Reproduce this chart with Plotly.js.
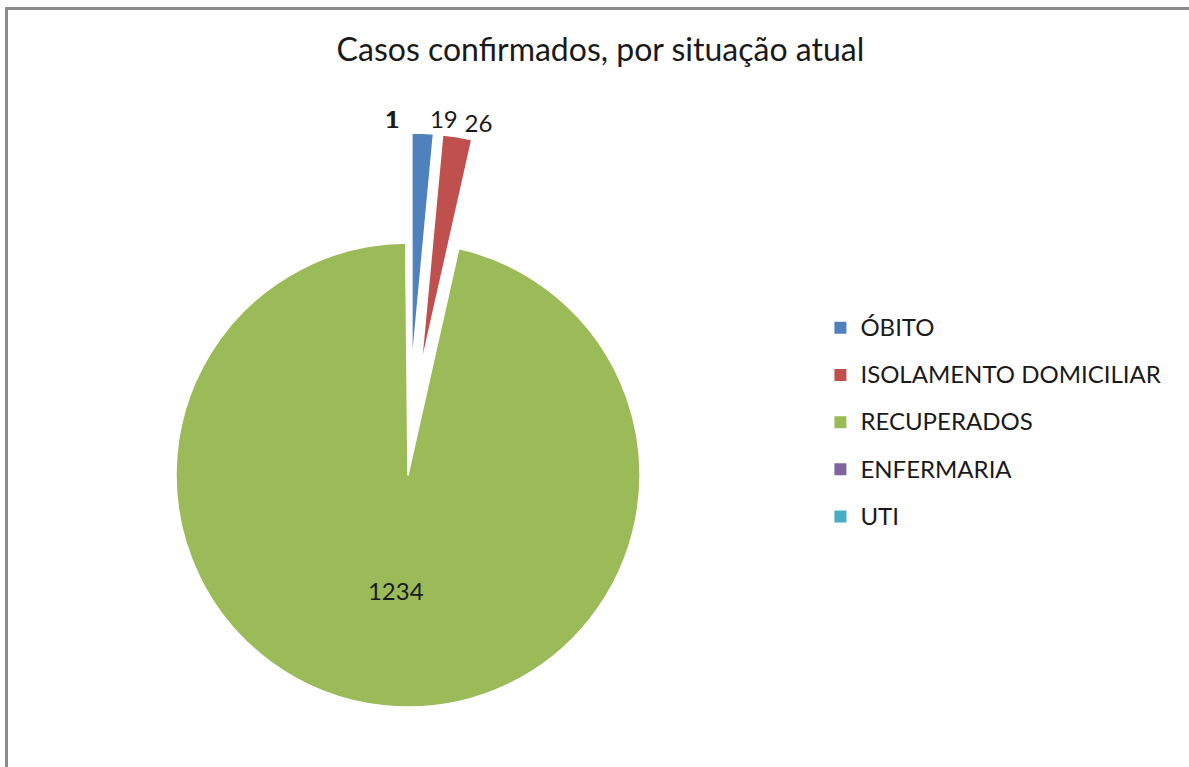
<!DOCTYPE html>
<html>
<head>
<meta charset="utf-8">
<script src="https://cdn.plot.ly/plotly-3.0.1.min.js"></script>
<style>
    body { margin: 0; background: #ffffff; }
    #wrap { position: relative; width: 1189px; height: 767px; overflow: hidden; }
    #chart { position: absolute; left: 0; top: 0; width: 1189px; height: 767px; }
    #frame {
        position: absolute; left: 5px; top: 7px; width: 1300px; height: 900px;
        border-top: 3px solid #8c8c8c; border-left: 3px solid #8c8c8c;
        pointer-events: none;
    }
</style>
</head>
<body>
<div id="wrap">
    <div id="chart"></div>
    <div id="frame"></div>
</div>
<script>
// Casos confirmados por situação atual
const categories = ['ÓBITO', 'ISOLAMENTO DOMICILIAR', 'RECUPERADOS', 'ENFERMARIA', 'UTI'];
const cases = [19, 26, 1234, 1, 1];
const sliceColors = ['#4f81bd', '#c0504d', '#9bbb59', '#8064a2', '#4bacc6'];
const exploded = [true, true, false, true, true];

const FONT = 'Lato, "Open Sans", sans-serif';
const TEXT = '#1a1a1a';
const NONE = 'rgba(0,0,0,0)';
const PULL = 0.36;

// the body of the pie (slices that are not pulled out)
const bodyDomain = { x: [0.14802, 0.53827], y: [0.07823, 0.68318] };
// exploded slices: taller box, same horizontal centre
const pulledDomain = { x: [0.07780, 0.60849], y: [0.00391, 0.82660] };

function pieTrace(showIdx, pull, domain, textpos) {
    const show = i => showIdx.includes(i);
    return {
        type: 'pie',
        labels: categories,
        values: cases,
        sort: false,
        direction: 'clockwise',
        rotation: 0,
        pull: cases.map((v, i) => show(i) ? pull : 0),
        texttemplate: cases.map((v, i) => show(i) ? '%{value}' : ''),
        textposition: textpos,
        insidetextorientation: 'horizontal',
        textfont: { family: FONT, size: 24, color: TEXT },
        marker: {
            colors: sliceColors.map((c, i) => show(i) ? c : NONE),
            line: { color: cases.map((v, i) => show(i) ? '#ffffff' : NONE), width: 1.5 }
        },
        automargin: false,
        showlegend: false,
        domain: domain,
        hoverinfo: 'label+value'
    };
}

const traces = [];
// main green body, value label inside
traces.push(pieTrace(exploded.map((e, i) => e ? -1 : i), 0, bodyDomain, 'inside'));
// one trace per exploded slice so their outside labels stay side by side
exploded.forEach((e, i) => {
    if (e) traces.push(pieTrace([i], PULL, pulledDomain, 'outside'));
});

// legend entries (square swatches), rows spaced wider than the text
categories.forEach((c, i) => {
    traces.push({
        type: 'scatter',
        mode: 'markers',
        x: [null],
        y: [null],
        name: `<span style="font-size:24px;baseline-shift:5px">${c}</span>`,
        marker: { symbol: 'square', size: 12, color: sliceColors[i] },
        showlegend: true,
        hoverinfo: 'skip'
    });
});

const layout = {
    width: 1189,
    height: 767,
    margin: { t: 0, b: 0, l: 0, r: 0 },
    paper_bgcolor: '#ffffff',
    plot_bgcolor: NONE,
    font: { family: FONT, color: TEXT },
    title: {
        text: 'Casos confirmados, por situação atual',
        font: { family: FONT, size: 32, color: TEXT },
        x: 0.505,
        xanchor: 'center',
        y: 0.935,
        yanchor: 'middle'
    },
    xaxis: { visible: false },
    yaxis: { visible: false },
    showlegend: true,
    legend: {
        x: 0.690,
        xanchor: 'left',
        y: 0.610,
        yanchor: 'top',
        font: { family: FONT, size: 34, color: TEXT },
        bgcolor: NONE,
        traceorder: 'normal'
    }
};

Plotly.newPlot('chart', traces, layout, { displayModeBar: false, staticPlot: true });
</script>
</body>
</html>
